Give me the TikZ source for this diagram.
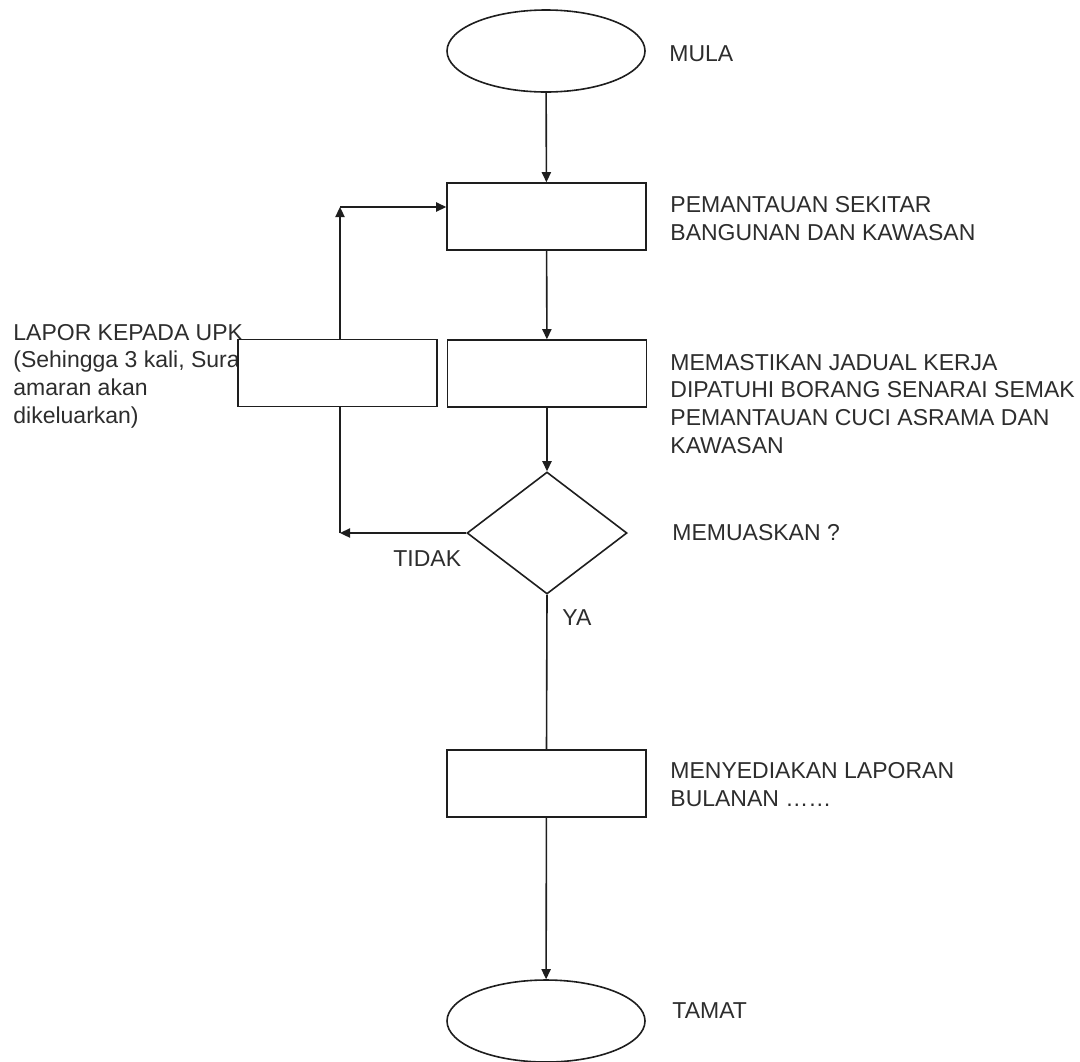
\documentclass[tikz,border=0pt]{standalone}
\usepackage{fontspec}
\setmainfont{Liberation Sans}
\usetikzlibrary{shapes.geometric,arrows.meta}
\definecolor{ink}{RGB}{30,30,30}
\definecolor{txt}{RGB}{45,45,45}
\tikzset{
  flow/.style={draw=ink, line width=0.8pt, fill=white, inner sep=0pt},
  procbox/.style={flow, rectangle, minimum width=99.5pt, minimum height=33.5pt},
  terminal/.style={flow, ellipse, minimum width=99pt, minimum height=41pt},
  decision/.style={flow, diamond, minimum width=80pt, minimum height=61pt},
  % multi-line labels sit on the baseline of their last line
  label/.style={anchor=base west, inner sep=0pt, align=left, text=txt,
                font=\fontsize{11.5pt}{13.8pt}\selectfont},
  conn/.style={draw=ink, line width=0.8pt},
  arr/.style={conn, -{Triangle[length=5pt,width=4.6pt]}}
}
\begin{document}
\begin{tikzpicture}[x=0.5pt, y=-0.5pt]
  \useasboundingbox (0,0) rectangle (1080,1061);

  % side note of the report step, partly covered by its box
  \node[label] (lapor) at (13,423) {LAPOR KEPADA UPK\\(Sehingga 3 kali, Sura\\amaran akan\\dikeluarkan)};

  % flow shapes
  \node[terminal] (start) at (546,51) {};
  \node[procbox] (r1) at (546.5,216.5) {};
  \node[procbox] (r2) at (547,373.5) {};
  \node[procbox] (lr) at (337.5,373) {};
  \node[decision] (dec) at (547,533) {};
  \node[procbox] (r3) at (546.5,783.5) {};
  \node[terminal] (stop) at (546,1021) {};

  % loop-back corners
  \coordinate (cdown) at (340,533);
  \coordinate (cup) at (340,207);

  % main flow
  \draw[arr] (start) -- (r1);
  \draw[arr] (r1) -- (r2);
  \draw[arr] (r2) -- (dec);
  \draw[conn] (dec.south) -- (r3.north);
  \draw[arr] (r3) -- (stop);

  % "TIDAK" loop back to monitoring
  \draw[arr] (dec.west) -- (cdown);
  \draw[conn] (cdown) -- (cdown |- lr.south);
  \draw[arr] (cup |- lr.north) -- (cup);
  \draw[arr] (cup) -- (cup -| r1.west);

  % step descriptions
  \node[label] (tmula) at (669,61) {MULA};
  \node[label] (t1) at (670,240) {PEMANTAUAN SEKITAR\\BANGUNAN DAN KAWASAN};
  \node[label] (t2) at (670,453) {MEMASTIKAN JADUAL KERJA\\DIPATUHI BORANG SENARAI SEMAK\\PEMANTAUAN CUCI ASRAMA DAN\\KAWASAN};
  \node[label] (tq) at (672,540) {MEMUASKAN ?};
  \node[label] (tno) at (393,566) {TIDAK};
  \node[label] (tyes) at (562,625) {YA};
  \node[label] (t3) at (670,806) {MENYEDIAKAN LAPORAN\\BULANAN \ldots\ldots};
  \node[label] (ttamat) at (672,1018) {TAMAT};
\end{tikzpicture}
\end{document}
